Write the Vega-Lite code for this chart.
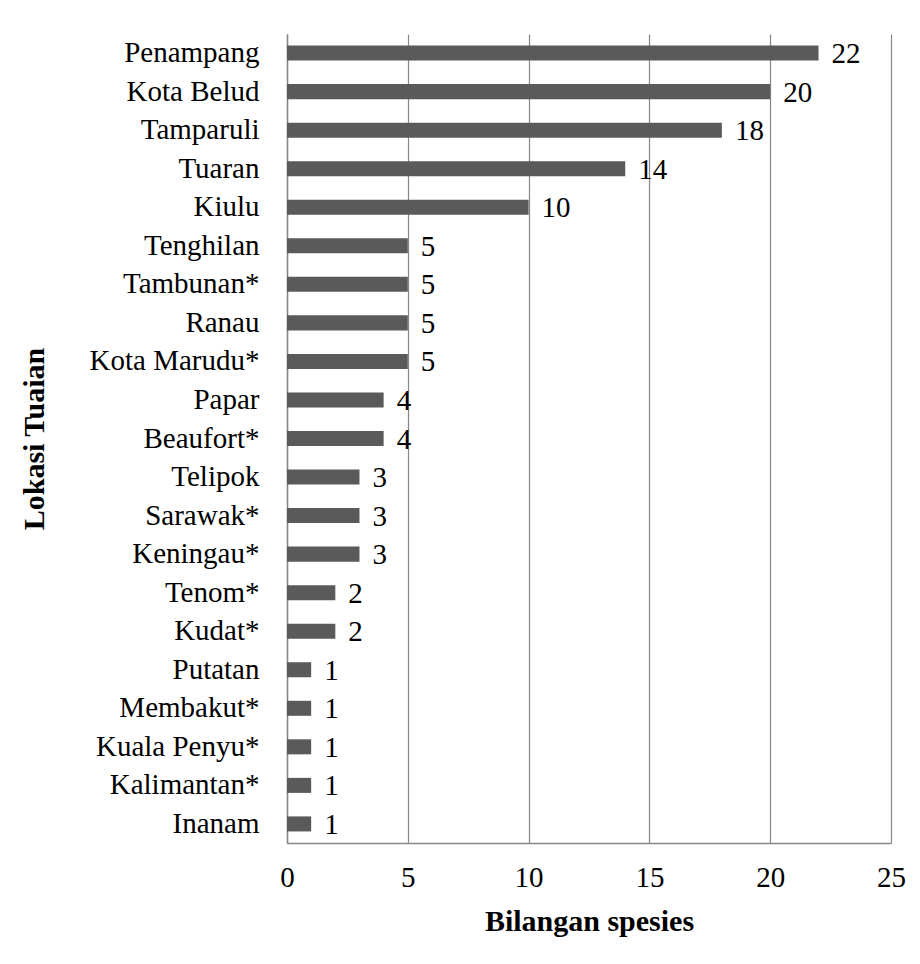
{
  "$schema": "https://vega.github.io/schema/vega-lite/v6.json",
  "autosize": "none",
  "width": 604,
  "height": 809,
  "padding": {"left": 287, "top": 34, "right": 29, "bottom": 121},
  "background": "white",
  "config": {
    "view": {"stroke": null},
    "font": "Liberation Serif, serif",
    "text": {"font": "Liberation Serif, serif"},
    "axis": {"labelFont": "Liberation Serif, serif", "titleFont": "Liberation Serif, serif"}
  },
  "data": {
    "values": [
      {"lokasi": "Penampang", "n": 22},
      {"lokasi": "Kota Belud", "n": 20},
      {"lokasi": "Tamparuli", "n": 18},
      {"lokasi": "Tuaran", "n": 14},
      {"lokasi": "Kiulu", "n": 10},
      {"lokasi": "Tenghilan", "n": 5},
      {"lokasi": "Tambunan*", "n": 5},
      {"lokasi": "Ranau", "n": 5},
      {"lokasi": "Kota Marudu*", "n": 5},
      {"lokasi": "Papar", "n": 4},
      {"lokasi": "Beaufort*", "n": 4},
      {"lokasi": "Telipok", "n": 3},
      {"lokasi": "Sarawak*", "n": 3},
      {"lokasi": "Keningau*", "n": 3},
      {"lokasi": "Tenom*", "n": 2},
      {"lokasi": "Kudat*", "n": 2},
      {"lokasi": "Putatan", "n": 1},
      {"lokasi": "Membakut*", "n": 1},
      {"lokasi": "Kuala Penyu*", "n": 1},
      {"lokasi": "Kalimantan*", "n": 1},
      {"lokasi": "Inanam", "n": 1}
    ]
  },
  "encoding": {
    "y": {
      "field": "lokasi",
      "type": "nominal",
      "sort": null,
      "scale": {"paddingInner": 0.61, "paddingOuter": 0.3},
      "axis": {
        "title": "Lokasi Tuaian",
        "titleFontSize": 30,
        "titleFontWeight": "bold",
        "titleColor": "black",
        "titleX": -238,
        "labelFontSize": 29,
        "labelColor": "black",
        "labelPadding": 28,
        "ticks": false,
        "domainColor": "#878787",
        "domainWidth": 1.5,
        "grid": false
      }
    },
    "x": {
      "field": "n",
      "type": "quantitative",
      "scale": {"domain": [0, 25], "nice": false},
      "axis": {
        "title": "Bilangan spesies",
        "titleFontSize": 30,
        "titleFontWeight": "bold",
        "titleColor": "black",
        "titlePadding": 14,
        "values": [0, 5, 10, 15, 20, 25],
        "labelFontSize": 29,
        "labelColor": "black",
        "labelPadding": 20,
        "labelFlush": false,
        "labelOverlap": false,
        "ticks": false,
        "domainColor": "#878787",
        "domainWidth": 1.5,
        "grid": true,
        "gridColor": "#878787",
        "gridWidth": 1.2
      }
    }
  },
  "layer": [
    {"mark": {"type": "bar", "color": "#5a5a5a"}},
    {
      "mark": {"type": "text", "align": "left", "baseline": "middle", "dx": 13, "dy": 1, "fontSize": 29, "color": "black"},
      "encoding": {"text": {"field": "n", "type": "quantitative"}}
    }
  ]
}
